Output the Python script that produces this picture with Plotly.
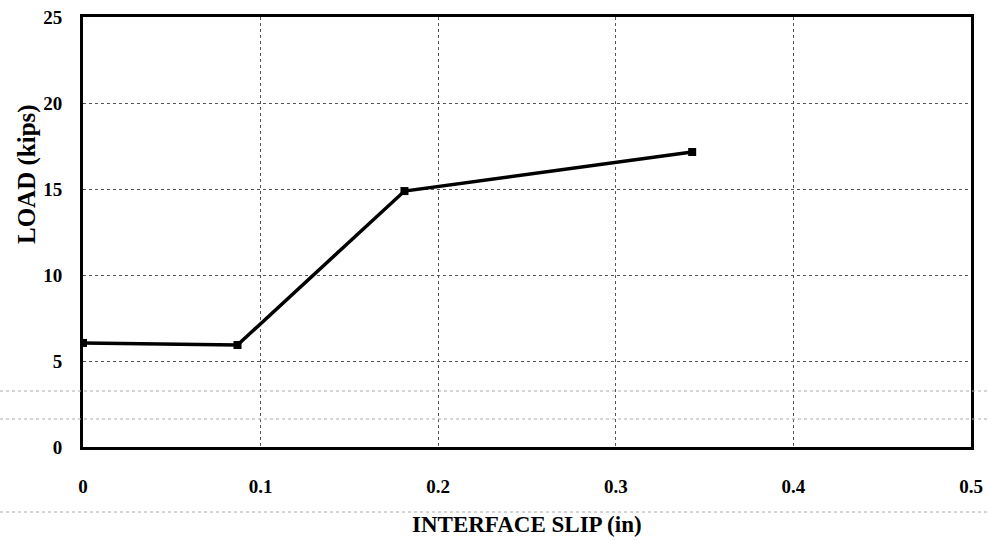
import plotly.graph_objects as go

slip = [0.0, 0.087, 0.181, 0.343]
load = [6.05, 5.93, 14.88, 17.15]

x_ticks = [0, 0.1, 0.2, 0.3, 0.4, 0.5]
x_tick_text = ["0", "0.1", "0.2", "0.3", "0.4", "0.5"]
y_ticks = [0, 5, 10, 15, 20, 25]
y_tick_text = ["0", "5", "10", "15", "20", "25"]
x_title = "INTERFACE SLIP (in)"
y_title = "LOAD (kips)"

font_family = "Liberation Serif, Times New Roman, serif"

fig = go.Figure()
fig.add_trace(go.Scatter(
    x=slip, y=load, mode="lines+markers",
    line=dict(color="black", width=3.5),
    marker=dict(symbol="square", size=8, color="black"),
    showlegend=False,
))

fig.update_layout(
    width=988, height=540,
    margin=dict(l=83, r=17, t=17, b=93),
    paper_bgcolor="white", plot_bgcolor="white",
    font=dict(family=font_family, color="black"),
    xaxis=dict(
        range=[0, 0.5], tickvals=x_ticks, ticktext=["<b>%s</b>" % t for t in x_tick_text],
        showgrid=True, gridcolor="#555555", griddash="dot", gridwidth=1,
        showline=True, linecolor="black", linewidth=3, mirror=True,
        zeroline=False, ticks="", ticklabelstandoff=20, automargin=False,
        tickfont=dict(size=19, family=font_family, color="black"),
    ),
    yaxis=dict(
        range=[0, 25], tickvals=y_ticks, ticktext=["<b>%s</b>" % t for t in y_tick_text],
        showgrid=True, gridcolor="#555555", griddash="dot", gridwidth=1,
        showline=True, linecolor="black", linewidth=3, mirror=True,
        zeroline=False, ticks="", ticklabelstandoff=14, automargin=False,
        tickfont=dict(size=19, family=font_family, color="black"),
    ),
)

fig.add_annotation(text="<b>%s</b>" % x_title, xref="paper", yref="paper",
                   x=(527 - 83) / 888, y=(447 - 524) / 430, xanchor="center", yanchor="middle",
                   showarrow=False, font=dict(size=23, family=font_family, color="black"))
fig.add_annotation(text="<b>%s</b>" % y_title, xref="paper", yref="paper",
                   x=(27 - 83) / 888, y=(447 - 174) / 430, xanchor="center", yanchor="middle",
                   textangle=-90, showarrow=False,
                   font=dict(size=25, family=font_family, color="black"))

# faint scan lines crossing the page
for ypx in [391, 419, 512]:
    yp = (447 - ypx) / 430
    fig.add_shape(type="line", xref="paper", yref="paper",
                  x0=-83/888, x1=905/888, y0=yp, y1=yp,
                  line=dict(color="#aaaaaa", width=1, dash="dot"), layer="above")

fig.write_html("out.html")
